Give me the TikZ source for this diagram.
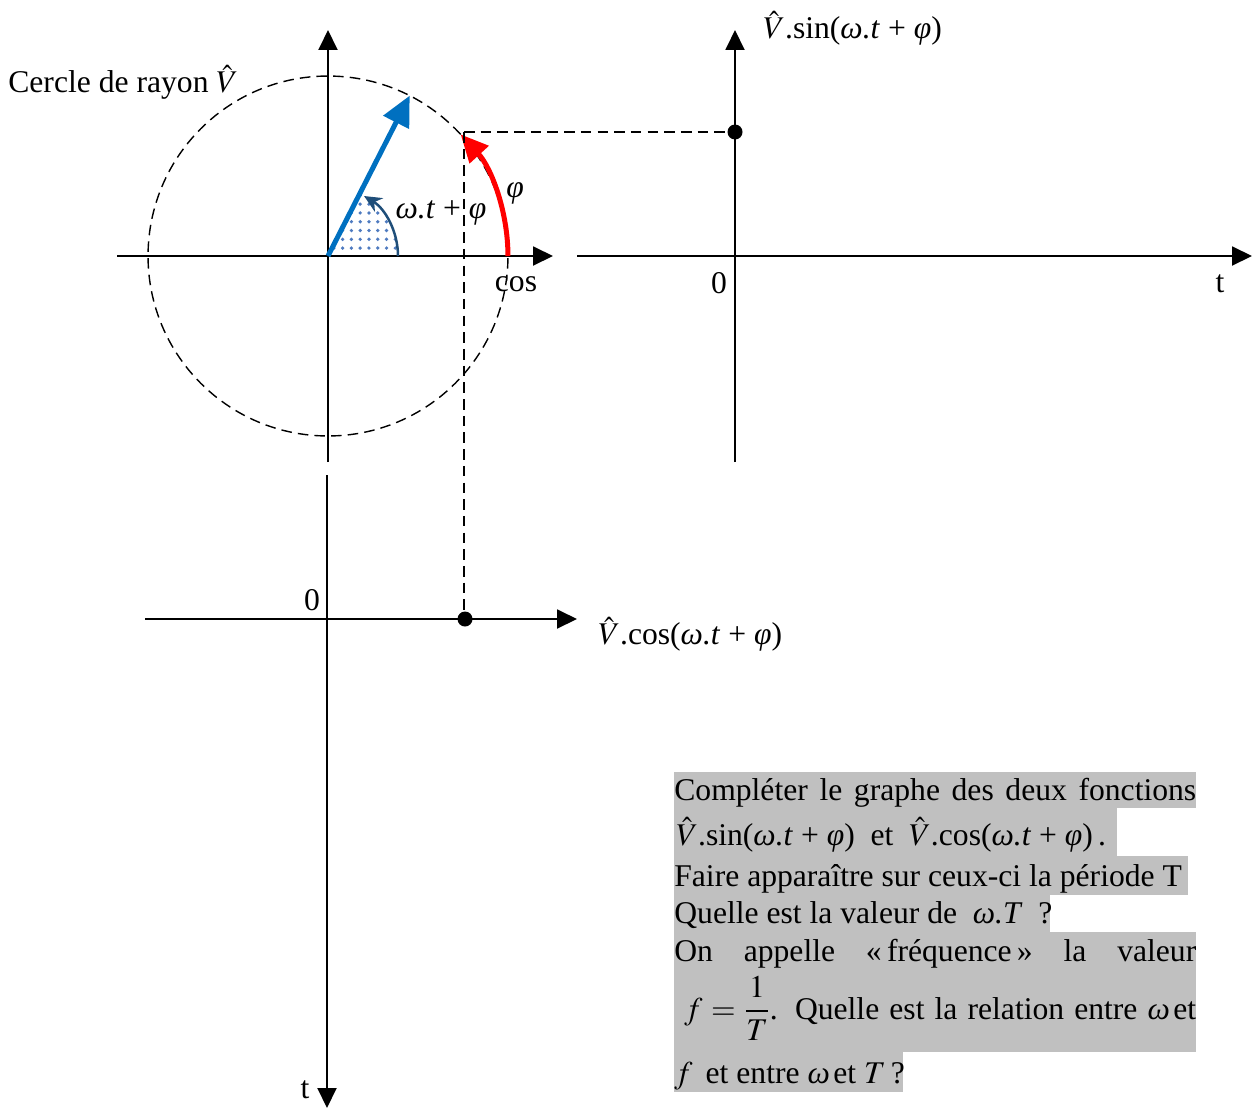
\documentclass[tikz,border=0pt]{standalone}
\usepackage{mathptmx}
\usepackage{fontspec}
\setmainfont{Liberation Serif}
\usetikzlibrary{arrows.meta,patterns.meta}
\definecolor{vecblue}{HTML}{0070C0}
\definecolor{arcblue}{HTML}{1F4E79}
\definecolor{dotblue}{HTML}{4F7BC0}
\definecolor{boxgray}{HTML}{C0C0C0}
\newcommand\myom{\textit{ω}}
\newcommand\myphi{\textit{φ}}
\newcommand\myarg{(\myom\textit{.t} + \myphi)}
\tikzset{
  axis/.style={line width=1.1pt,-{Triangle[length=0.4cm,width=0.38cm]}},
  guide/.style={line width=0.8pt,dash pattern=on 6pt off 3.5pt},
  lbl/.style={inner sep=0pt,font=\fontsize{18}{22}\selectfont},
  txt/.style={inner sep=0pt,anchor=base west,font=\fontsize{18}{22}\selectfont},
  hl/.style={fill=boxgray,draw=none},
  dotmark/.style={circle,fill=black,inner sep=0pt,minimum size=0.3cm},
}
\begin{document}
\begin{tikzpicture}[x=0.02cm,y=-0.02cm]
\useasboundingbox (0,0) rectangle (1254,1109);
% --- key points
\coordinate (O) at (328,256);
\coordinate (P) at (464,132);
% --- circle and its axes
\fill[pattern={Dots[distance=5pt,radius=1.05pt]},pattern color=dotblue]
  (O) -- ++(0:1.4cm) arc[start angle=0,end angle=63,radius=1.4cm] -- cycle;
\draw[guide] (O) circle[radius=3.6cm];
\coordinate (hL) at (117,256); \coordinate (hR) at (553,256);
\coordinate (vB) at (328,462); \coordinate (vT) at (328,30);
\draw[axis] (hL) -- (hR);
\draw[axis] (vB) -- (vT);
% --- vectors and arcs
\draw[vecblue,line width=0.1cm,-{Triangle[length=0.6cm,width=0.56cm]}]
  (O) -- ([shift={(O)}]63:3.6cm);
\draw[arcblue,line width=0.05cm,-{Stealth[length=0.35cm,width=0.32cm]}]
  ([shift={(O)}]0:1.4cm) arc[start angle=0,end angle=59,radius=1.4cm];
\draw[red,line width=0.1cm,-{Triangle[length=0.55cm,width=0.5cm]}]
  ([shift={(O)}]0:3.6cm) arc[start angle=0,end angle=42.5,radius=3.6cm];
\node[lbl] (wtphi) at (441,213) {\myom\textit{.t} + \myphi};
\node[lbl] (phi) at (515,193) {\myphi};
\node[lbl] (cos) at (516,284) {cos};
\node[lbl,anchor=west] (cercle) at (8,82) {Cercle de rayon $\hat{V}$};
% --- right graph
\coordinate (rL) at (577,256); \coordinate (rR) at (1252,256);
\coordinate (rB) at (735,462); \coordinate (rT) at (735,30);
\draw[axis] (rL) -- (rR);
\draw[axis] (rB) -- (rT);
\node[dotmark] (S) at (735,132) {};
\draw[guide] (P) -- (S);
\node[lbl] (r0) at (719,283) {0};
\node[lbl] (rt) at (1220,284) {t};
\node[lbl,anchor=west] (sinlbl) at (763,28) {$\hat{V}$.sin\myarg};
% --- bottom graph
\coordinate (bL) at (145,619); \coordinate (bR) at (577,619);
\coordinate (bT) at (327,475); \coordinate (bB) at (327,1108);
\draw[axis] (bL) -- (bR);
\draw[axis] (bT) -- (bB);
\node[dotmark] (C) at (465,619) {};
\draw[guide] (P) -- (P |- C) -- (C);
\node[lbl] (b0) at (312,600) {0};
\node[lbl] (bt) at (305,1090) {t};
\node[lbl,anchor=west] (coslbl) at (598,634) {$\hat{V}$.cos\myarg};
% --- question box
\fill[hl] (674,772) rectangle (1196,808);
\fill[hl] (674,808) rectangle (1117,856);
\fill[hl] (674,856) rectangle (1188,895);
\fill[hl] (674,895) rectangle (1050,932);
\fill[hl] (674,932) rectangle (1196,1052);
\fill[hl] (674,1052) rectangle (903,1092);
\node[txt] (q1) at (674,800) {\makebox[10.44cm][s]{Compléter le graphe des deux fonctions}};
\node[txt] (q2) at (676,845) {$\hat{V}$.sin\myarg\ \ et\ \ $\hat{V}$.cos\myarg\,.};
\node[txt] (q3) at (674,886) {Faire apparaître sur ceux-ci la période T};
\node[txt] (q4) at (674,923) {Quelle est la valeur de \ \myom\textit{.T} \ ?};
\node[txt] (q5) at (674,961) {\makebox[10.44cm][s]{On appelle «\kern3pt fréquence\kern3pt» la valeur}};
\node[txt] (q6) at (674,1019) {\makebox[10.44cm][s]{\ $\displaystyle f=\frac{1}{T}$. Quelle est la relation entre \myom\kern2pt et}};
\node[txt] (q7) at (674,1083) {$f$\, et entre \myom\kern2pt et $T$\,?};
\end{tikzpicture}
\end{document}
